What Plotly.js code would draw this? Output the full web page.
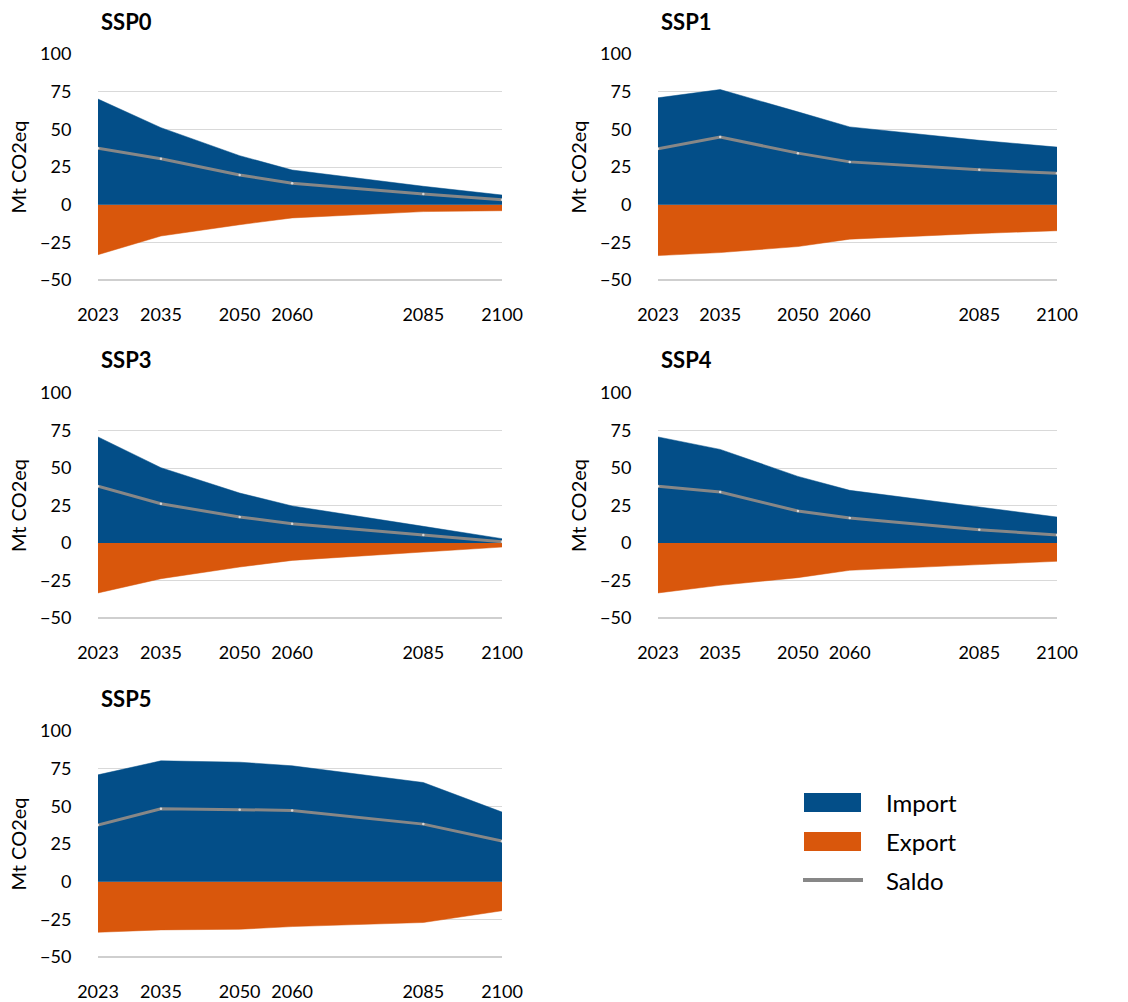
<!DOCTYPE html>
<html>
<head>
<meta charset="utf-8">
<script src="https://cdn.plot.ly/plotly-3.0.1.min.js"></script>
<style>html,body{margin:0;padding:0;background:#fff;} #chart{width:1128px;height:1002px;}</style>
</head>
<body>
<div id="chart"></div>
<script>
// ---- data ----
const years = [2023, 2035, 2050, 2060, 2085, 2100];
const yearTicks = [2023, 2035, 2050, 2060, 2085, 2100];
const scenarios = ["SSP0", "SSP1", "SSP3", "SSP4", "SSP5"];

const importSSP0 = [70.1, 51.1, 32.5, 23.0, 12.2, 6.4];
const exportSSP0 = [-33.2, -20.8, -13.3, -8.8, -4.6, -4.0];
const saldoSSP0  = [37.4, 30.5, 19.7, 14.2, 7.1, 3.3];

const importSSP1 = [70.9, 76.4, 61.6, 51.6, 42.7, 38.2];
const exportSSP1 = [-33.8, -31.8, -27.8, -22.9, -19.1, -17.3];
const saldoSSP1  = [37.1, 44.9, 34.2, 28.4, 23.1, 20.9];

const importSSP3 = [70.7, 50.2, 33.3, 24.7, 11.1, 2.9];
const exportSSP3 = [-33.3, -23.8, -16.0, -11.6, -6.0, -2.7];
const saldoSSP3  = [37.8, 26.2, 17.3, 12.9, 5.3, 0.9];

const importSSP4 = [70.7, 62.4, 44.4, 35.1, 24.0, 17.3];
const exportSSP4 = [-33.3, -28.2, -23.1, -18.2, -14.4, -12.2];
const saldoSSP4  = [37.8, 34.0, 21.3, 16.7, 8.9, 5.3];

const importSSP5 = [70.9, 80.2, 79.3, 76.9, 65.8, 46.2];
const exportSSP5 = [-33.6, -32.0, -31.6, -29.8, -27.1, -19.3];
const saldoSSP5  = [37.6, 48.4, 47.8, 47.3, 38.2, 26.9];

const seriesNames = ["Import", "Export", "Saldo"];

// ---- styling ----
const W = 1128, H = 1002;
const BLUE = "#034E88", ORANGE = "#D9570C", GREY = "#878787";
const FONT = "Lato, 'Open Sans', sans-serif";
const px = v => v / W;
const py = v => 1 - v / H;

const data = [
  [importSSP0, exportSSP0, saldoSSP0],
  [importSSP1, exportSSP1, saldoSSP1],
  [importSSP3, exportSSP3, saldoSSP3],
  [importSSP4, exportSSP4, saldoSSP4],
  [importSSP5, exportSSP5, saldoSSP5]
];

// panel pixel boxes [left, right, top, bottom]
const boxes = [
  [98, 502, 54, 280],
  [658, 1057, 54, 280],
  [98, 502, 393, 618],
  [658, 1057, 393, 618],
  [98, 502, 731, 957]
];

const traces = [];
const layout = {
  width: W, height: H,
  margin: {l: 0, r: 0, t: 0, b: 0},
  paper_bgcolor: "#fff", plot_bgcolor: "#fff",
  showlegend: false,
  font: {family: FONT, color: "#000", size: 18},
  annotations: [], shapes: []
};

scenarios.forEach((name, i) => {
  const n = i + 1;
  const xa = n === 1 ? "x" : "x" + n;
  const ya = n === 1 ? "y" : "y" + n;
  const [imp, exp, sal] = data[i];
  traces.push({x: years, y: exp, xaxis: xa, yaxis: ya, type: "scatter", mode: "lines",
    fill: "tozeroy", fillcolor: ORANGE, line: {color: ORANGE, width: 0.5}, name: seriesNames[1], hoverinfo: "x+y"});
  traces.push({x: years, y: imp, xaxis: xa, yaxis: ya, type: "scatter", mode: "lines",
    fill: "tozeroy", fillcolor: BLUE, line: {color: BLUE, width: 0.5}, name: seriesNames[0], hoverinfo: "x+y"});
  traces.push({x: years, y: sal, xaxis: xa, yaxis: ya, type: "scatter", mode: "lines+markers",
    line: {color: GREY, width: 3}, marker: {size: 2.5, color: "#d8d8d8"}, name: seriesNames[2], hoverinfo: "x+y"});

  const b = boxes[i];
  layout["xaxis" + (n === 1 ? "" : n)] = {
    domain: [px(b[0]), px(b[1])], anchor: ya,
    range: [2023, 2100], tickvals: yearTicks, ticktext: yearTicks.map(String),
    showgrid: false, zeroline: false, showline: false,
    ticks: "outside", ticklen: 0, ticklabelstandoff: 18,
    tickfont: {size: 18, family: FONT, color: "#000"}, fixedrange: true
  };
  layout["yaxis" + (n === 1 ? "" : n)] = {
    domain: [py(b[3]), py(b[2])], anchor: xa,
    range: [-50, 100], tick0: 0, dtick: 25,
    showgrid: true, gridcolor: "#d9d9d9", gridwidth: 1,
    zeroline: false, showline: false,
    ticks: "outside", ticklen: 0, ticklabelstandoff: 22,
    tickfont: {size: 18, family: FONT, color: "#000"},
    title: {text: "Mt CO2eq", font: {size: 20, family: FONT, color: "#000"}, standoff: 8},
    fixedrange: true
  };
  // bottom axis line at -50
  layout.shapes.push({type: "line", xref: "paper", yref: "paper",
    x0: px(b[0]), x1: px(b[1]), y0: py(b[3]), y1: py(b[3]),
    line: {color: "#bfbfbf", width: 1.5}});
  // panel title
  layout.annotations.push({text: "<b>" + name + "</b>", xref: "paper", yref: "paper",
    x: px(b[0] + 1), y: py(b[2] - 33), xanchor: "left", yanchor: "middle",
    showarrow: false, font: {size: 22, family: FONT, color: "#000"}});
});

// ---- legend (drawn manually) ----
const legY = [802, 841, 880];
layout.shapes.push({type: "rect", xref: "paper", yref: "paper",
  x0: px(804), x1: px(861), y0: py(812), y1: py(793), fillcolor: BLUE, line: {width: 0}});
layout.shapes.push({type: "rect", xref: "paper", yref: "paper",
  x0: px(804), x1: px(861), y0: py(851), y1: py(832), fillcolor: ORANGE, line: {width: 0}});
layout.shapes.push({type: "line", xref: "paper", yref: "paper",
  x0: px(803), x1: px(863), y0: py(880), y1: py(880), line: {color: GREY, width: 4}});
seriesNames.forEach((s, k) => {
  layout.annotations.push({text: s, xref: "paper", yref: "paper",
    x: px(884), y: py(legY[k]), xanchor: "left", yanchor: "middle",
    showarrow: false, font: {size: 24, family: FONT, color: "#000"}});
});

Plotly.newPlot("chart", traces, layout, {displayModeBar: false, staticPlot: true});
</script>
</body>
</html>
